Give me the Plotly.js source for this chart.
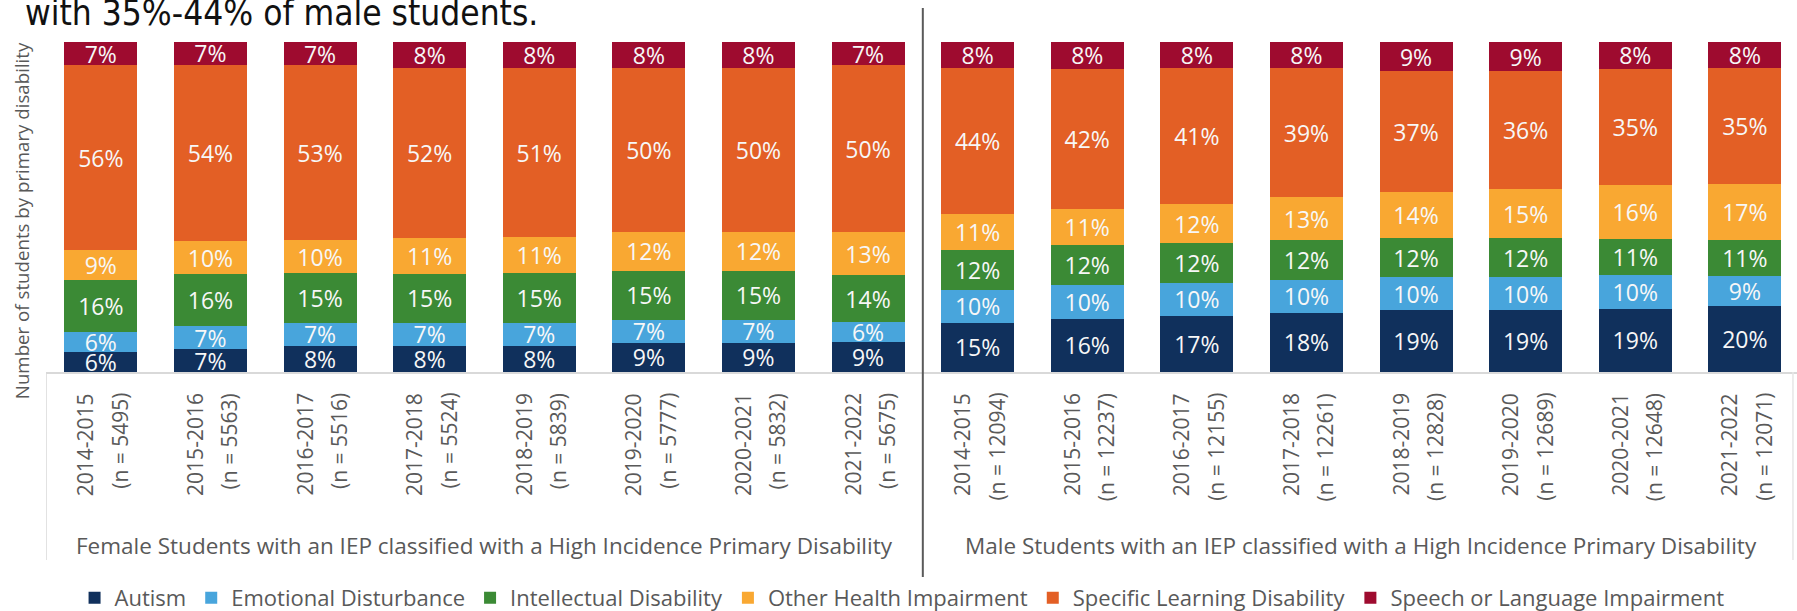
<!DOCTYPE html>
<html>
<head>
<meta charset="utf-8">
<script src="https://cdn.plot.ly/plotly-3.0.1.min.js"></script>
<style>
  html, body { margin: 0; padding: 0; background: #ffffff; }
  #chart { width: 1797px; height: 611px; }
</style>
</head>
<body>
<div id="chart"></div>
<script>
// ---- Data ----
const years = ['2014-2015','2015-2016','2016-2017','2017-2018','2018-2019','2019-2020','2020-2021','2021-2022'];
const femaleN = [5495, 5563, 5516, 5524, 5839, 5777, 5832, 5675];
const maleN = [12094, 12237, 12155, 12261, 12828, 12689, 12648, 12071];
const groupLabels = [
  'Female Students with an IEP classified with a High Incidence Primary Disability',
  'Male Students with an IEP classified with a High Incidence Primary Disability'
];
const categoryNames = ['Autism','Emotional Disturbance','Intellectual Disability','Other Health Impairment','Specific Learning Disability','Speech or Language Impairment'];

// Female percentages
const femaleAutism = [6, 7, 8, 8, 8, 9, 9, 9];
const femaleED     = [6, 7, 7, 7, 7, 7, 7, 6];
const femaleID     = [16, 16, 15, 15, 15, 15, 15, 14];
const femaleOHI    = [9, 10, 10, 11, 11, 12, 12, 13];
const femaleSLD    = [56, 54, 53, 52, 51, 50, 50, 50];
const femaleSLI    = [7, 7, 7, 8, 8, 8, 8, 7];

// Male percentages
const maleAutism = [15, 16, 17, 18, 19, 19, 19, 20];
const maleED     = [10, 10, 10, 10, 10, 10, 10, 9];
const maleID     = [12, 12, 12, 12, 12, 12, 11, 11];
const maleOHI    = [11, 11, 12, 13, 14, 15, 16, 17];
const maleSLD    = [44, 42, 41, 39, 37, 36, 35, 35];
const maleSLI    = [8, 8, 8, 8, 9, 9, 8, 8];

const headerText = 'with 35%-44% of male students.';
const yTitle = 'Number of students by primary disability';

// ---- Build ----
const colors = ['#10305c', '#48a5dc', '#3b8a35', '#f9a832', '#e35f25', '#9e0b2f'];
const femaleSeries = [femaleAutism, femaleED, femaleID, femaleOHI, femaleSLD, femaleSLI];
const maleSeries = [maleAutism, maleED, maleID, maleOHI, maleSLD, maleSLI];

const xCats = years.map((y, i) => y + ' (n = ' + femaleN[i] + ')')
  .concat(years.map((y, i) => y + ' (n = ' + maleN[i] + ')'));
const allN = femaleN.concat(maleN);
const allYears = years.concat(years);

const FONT = '"Open Sans", "Noto Sans", sans-serif';

const traces = categoryNames.map((name, k) => {
  const vals = femaleSeries[k].concat(maleSeries[k]);
  return {
    type: 'bar',
    name: name,
    x: xCats,
    y: vals,
    text: vals.map(v => v + '%'),
    texttemplate: '%{text}',
    textposition: 'inside',
    insidetextanchor: 'middle',
    textangle: 0,
    constraintext: 'none',
    insidetextfont: { family: FONT, size: 23, color: '#f7f7f7' },
    marker: { color: colors[k], line: { width: 0 } },
    hoverinfo: 'skip'
  };
});

const annotations = [];
allYears.forEach((y, i) => {
  annotations.push({
    xref: 'x', yref: 'paper', x: i, y: 0,
    xanchor: 'center', yanchor: 'top', yshift: -19, xshift: -16,
    textangle: -90, showarrow: false,
    text: y, font: { family: FONT, size: 21, color: '#595959' }
  });
  annotations.push({
    xref: 'x', yref: 'paper', x: i, y: 0,
    xanchor: 'center', yanchor: 'top', yshift: -19, xshift: 19,
    textangle: -90, showarrow: false,
    text: '(n = ' + allN[i] + ')', font: { family: FONT, size: 21, color: '#595959' }
  });
});
groupLabels.forEach((g, j) => {
  annotations.push({
    xref: 'x', yref: 'paper', x: 3.5 + 8 * j, y: 0,
    xanchor: 'center', yanchor: 'middle', yshift: -173,
    showarrow: false, text: g,
    font: { family: FONT, size: 22.5, color: '#595959' }
  });
});
annotations.push({
  xref: 'paper', yref: 'paper', x: -0.0143, y: 0.46,
  xanchor: 'center', yanchor: 'middle', textangle: -90, showarrow: false,
  text: yTitle, font: { family: FONT, size: 18.7, color: '#595959' }
});
annotations.push({
  xref: 'paper', yref: 'paper', x: -0.0131, y: 1.022,
  xanchor: 'left', yanchor: 'bottom', showarrow: false,
  text: headerText, font: { family: '"Liberation Sans Narrow", "DejaVu Sans Condensed", Roboto, sans-serif', size: 35, color: '#111111' }
});

const shapes = [
  { type: 'line', xref: 'x', yref: 'paper', x0: 7.5, x1: 7.5, y0: -0.628, y1: 1.103,
    line: { color: '#5a5a5a', width: 2 } },
  { type: 'line', xref: 'x', yref: 'paper', x0: -0.5, x1: -0.5, y0: -0.57, y1: 0,
    line: { color: '#d9d9d9', width: 1.5 } },
  { type: 'line', xref: 'paper', yref: 'paper', x0: 0.9977, x1: 0.9977, y0: -0.57, y1: 0,
    line: { color: '#e6e6e6', width: 1.5 } }
];

const layout = {
  width: 1797, height: 611,
  margin: { l: 46, r: 0, t: 42, b: 239, pad: 0, autoexpand: false },
  paper_bgcolor: '#ffffff', plot_bgcolor: '#ffffff',
  barmode: 'stack', barnorm: 'percent', bargap: 0.334,
  showlegend: true,
  legend: {
    orientation: 'h', x: 0.4889, xanchor: 'center', y: -0.685, yanchor: 'middle',
    traceorder: 'normal', font: { family: FONT, size: 22, color: '#595959' },
    itemclick: false, itemdoubleclick: false
  },
  xaxis: {
    type: 'category', range: [-0.5, 15.476], showticklabels: false, ticks: '',
    showgrid: false, zeroline: false, showline: true, linecolor: '#d9d9d9', linewidth: 1.5,
    fixedrange: true
  },
  yaxis: {
    range: [0, 100], showticklabels: false, ticks: '', showgrid: false, zeroline: false,
    showline: false, fixedrange: true
  },
  annotations: annotations,
  shapes: shapes,
  font: { family: FONT, color: '#595959' }
};

Plotly.newPlot('chart', traces, layout, { displayModeBar: false, staticPlot: true });
</script>
</body>
</html>
